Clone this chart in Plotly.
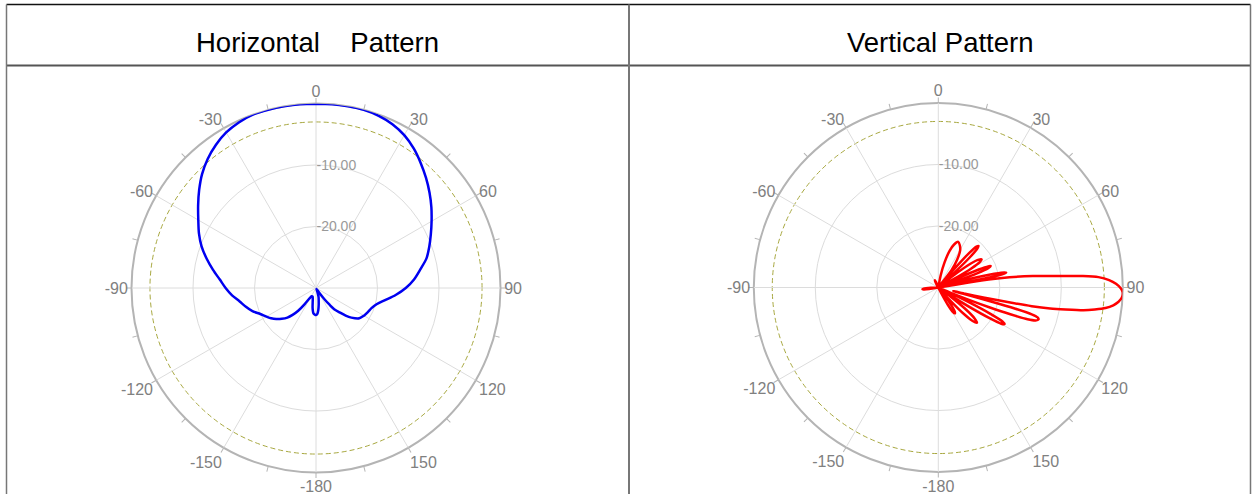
import plotly.graph_objects as go

# ---------------- data ----------------
H_THETA = [0, 5, 10, 15, 20, 25, 30, 35, 40, 45, 50, 55, 60, 65, 70, 75, 80, 85, 90, 95,
           100, 105, 110, 115, 120, 125, 130, 133, 136, 139, 141, 143, 146, 150, 155, 160,
           164, 168, 171, 174, 177, 180, 183, 186, 188, 190, 193, 197, 202, 208, 212, 215,
           218, 221, 224, 228, 232, 236, 240, 245, 250, 255, 260, 265, 270, 275, 280, 285,
           290, 295, 300, 305, 310, 315, 320, 325, 330, 335, 340, 345, 350, 355, 360]
H_DB = [-0.1, 0.0, 0.0, 0.0, -0.2, -0.6, -1.3, -2.3, -3.5, -4.7, -5.9, -7.1, -8.3, -9.4,
        -10.4, -11.4, -12.8, -14.0, -15.4, -17.0, -18.6, -19.8, -20.4, -20.7, -21.0, -21.4,
        -22.5, -23.4, -24.5, -25.3, -26.5, -27.6, -29.0, -29.8, -29.8, -29.3, -28.5, -27.9,
        -27.2, -26.4, -25.8, -25.6, -25.7, -25.9, -26.3, -26.8, -27.6, -28.2, -28.5, -28.5,
        -28.0, -26.8, -25.3, -24.2, -23.3, -22.5, -21.8, -21.2, -20.7, -20.0, -19.0, -18.2,
        -17.4, -16.3, -15.3, -14.3, -13.0, -11.6, -10.2, -9.0, -7.9, -6.6, -5.2, -3.8, -2.6,
        -1.6, -0.8, -0.3, 0.0, 0.0, 0.0, 0.0, -0.1]

V_THETA = [0, 8, 11, 14, 17, 20, 23.6, 27, 30.5, 34, 37.5, 39.5,
           40.5, 41.8, 43, 44, 45, 46.3, 47.5, 48.5,
           50, 51.5, 53.5, 55.5, 57, 58.5, 60, 61.3, 62.3,
           63.3, 64.5, 66, 67, 67.8, 68.8, 70, 71.2, 72.3,
           73.3, 74.3, 75.6, 76.7, 77.5, 78.3, 79.1, 79.8, 80.3,
           80.8, 81.2, 81.8, 83.1, 84.6, 85.5, 86.3, 87.5, 88.8, 90.3, 91.5, 92.5, 93.5,
           94.5, 95.8, 97, 98, 98.9, 99.8, 100.6, 101.3, 101.9, 102.5, 103.2, 103.8,
           104.4, 104.9, 105.4, 106, 106.8, 107.7, 108.7, 109.6, 110.4, 111.2, 112, 113, 113.8,
           114.6, 115.6, 116.8, 117.9, 118.9, 119.9, 120.9, 121.9, 122.9, 123.6,
           125, 126.5, 128.3, 130.3, 132.3, 134.3, 136, 137.5, 138.7,
           140, 141.5, 143.5, 145.5, 147.3, 149.3, 151.2, 153, 154,
           200, 258, 260.5, 262.5, 264, 265.5, 267.5, 269,
           325, 330, 334, 336, 338, 342, 360]
V_DB = [-30, -30, -28, -25.8, -23.8, -22.6, -21.9, -22.3, -23.0, -24.5, -26.5, -30,
        -27, -22.5, -20.9, -20.6, -21.0, -23, -27, -30,
        -30, -27, -23.5, -22, -21.6, -22.1, -23.8, -27, -30,
        -30, -27, -22.8, -21.2, -20.8, -21.3, -23.2, -27, -30,
        -30, -27, -22.5, -19.5, -18.7, -19.4, -22.5, -27, -30,
        -25, -21, -18.3, -14.5, -10.2, -6.4, -3.9, -2.2, -1.1, -0.3, 0.0, 0.0, -0.2,
        -0.6, -1.4, -2.6, -4.3, -6.1, -9.0, -11.5, -14.5, -18.5, -22.5, -25.5, -27.5,
        -25.5, -21, -17, -14.2, -13.1, -12.9, -13.3, -14.6, -17.5, -21, -24.5, -28, -30,
        -28, -24.5, -20.5, -18.2, -17.7, -18.2, -20.3, -23.5, -27.5, -30,
        -30, -27.5, -24.5, -22.3, -21.5, -22.2, -24, -27, -30,
        -30, -28.5, -26.5, -25.3, -25.0, -25.4, -26.8, -29, -30,
        -30, -30, -28.5, -27.6, -27.4, -27.6, -28.8, -30,
        -30, -29.5, -28.8, -28.7, -29.4, -30, -30]

TICK_ANGLES = [0, 15, 30, 45, 60, 75, 90, 105, 120, 135, 150, 165,
               180, 195, 210, 225, 240, 255, 270, 285, 300, 315, 330, 345]
LABEL_ANGLES = [0, 30, 60, 90, 120, 150, 180, 210, 240, 270, 300, 330]
LABEL_TEXT = ["0", "30", "60", "90", "120", "150", "-180", "-150", "-120", "-90", "-60", "-30"]
GRID_ANGLES = [0, 30, 60, 90, 120, 150, 180, 210, 240, 270, 300, 330]
RING_VALUES = [-20, -10]
RING_LABELS = ["-20.00", "-10.00"]
REF_LEVEL = [-3]
R_RANGE = [-30, 0]
TITLES = ["Horizontal\u00a0\u00a0\u00a0\u00a0Pattern", "Vertical Pattern"]

W, H = 1257, 494
FONT = "Liberation Sans, Arial, sans-serif"

# polar centres / radius in pixels
R_PX = 184.5
LABEL_INSET = 3
CENTERS = [(316.0, 288.0), (938.3, 287.5)]


def dom(cx, cy, r=R_PX):
    return dict(x=[(cx - r) / W, (cx + r) / W],
                y=[(H - cy - r) / H, (H - cy + r) / H])


def dummy(key):
    return go.Scatterpolar(r=[R_RANGE[0]], theta=[0], mode="markers",
                           marker=dict(size=0.1, opacity=0), hoverinfo="skip",
                           subplot=key, showlegend=False)


fig = go.Figure()

# underlay polars: dashed -3 dB ring and the 15-degree tick marks
for i, (cx, cy) in enumerate(CENTERS):
    key = ["polar", "polar2"][i]
    fig.add_trace(dummy(key))
    fig.layout[key] = dict(
        domain=dom(cx, cy), bgcolor="white",
        angularaxis=dict(rotation=90, direction="clockwise", showline=False,
                         showgrid=False, showticklabels=False,
                         tickmode="array", tickvals=TICK_ANGLES,
                         ticks="outside", ticklen=5, tickcolor="#b4b4b4", tickwidth=1),
        radialaxis=dict(range=R_RANGE, tickvals=REF_LEVEL, showticklabels=False,
                        ticks="", showline=False, showgrid=True,
                        gridcolor="#a8a840", griddash="5px,3px", gridwidth=1),
    )

# main polars (polar3, polar4)
for i, (cx, cy) in enumerate(CENTERS):
    key = ["polar3", "polar4"][i]
    for a in GRID_ANGLES:
        fig.add_trace(go.Scatterpolar(r=R_RANGE, theta=[a, a], mode="lines",
                                      line=dict(color="#dcdcdc", width=1),
                                      hoverinfo="skip", subplot=key, showlegend=False))
    fig.layout[key] = dict(
        domain=dom(cx, cy), bgcolor="rgba(0,0,0,0)",
        angularaxis=dict(rotation=90, direction="clockwise",
                         tickmode="array", tickvals=LABEL_ANGLES,
                         showticklabels=False, ticks="",
                         showgrid=False, showline=True, linecolor="#b4b4b4", linewidth=2,
                         layer="below traces"),
        radialaxis=dict(range=R_RANGE, angle=90, tickmode="array",
                        tickvals=RING_VALUES, ticktext=RING_LABELS, tickangle=90,
                        showline=False, showgrid=True, gridcolor="#dcdcdc", gridwidth=1,
                        ticks="", side="clockwise",
                        tickfont=dict(family=FONT, size=14, color="#999999"),
                        layer="below traces"),
    )

# angle-label polars (polar5, polar6), slightly smaller so labels sit close to the rim
for i, (cx, cy) in enumerate(CENTERS):
    key = ["polar5", "polar6"][i]
    fig.add_trace(dummy(key))
    fig.layout[key] = dict(
        domain=dom(cx, cy, R_PX - LABEL_INSET), bgcolor="rgba(0,0,0,0)",
        angularaxis=dict(rotation=90, direction="clockwise",
                         tickmode="array", tickvals=LABEL_ANGLES, ticktext=LABEL_TEXT,
                         showgrid=False, showline=False,
                         ticks="outside", ticklen=3, tickcolor="rgba(0,0,0,0)",
                         tickfont=dict(family=FONT, size=16, color="#808080")),
        radialaxis=dict(range=R_RANGE, showticklabels=False, ticks="",
                        showline=False, showgrid=False),
    )

fig.add_trace(go.Scatterpolar(r=H_DB, theta=H_THETA, mode="lines",
                              line=dict(color="#0000f0", width=2.5, shape="spline", smoothing=0.8),
                              subplot="polar3", showlegend=False))
fig.add_trace(go.Scatterpolar(r=V_DB, theta=V_THETA, mode="lines",
                              line=dict(color="#ff0000", width=2.5, shape="spline", smoothing=0.6),
                              subplot="polar4", showlegend=False))

# table frame
def px_x(x):
    return x / W


def px_y(y):
    return (H - y) / H


shapes = [
    dict(type="line", x0=px_x(6.5), x1=px_x(1250.5), y0=px_y(4.5), y1=px_y(4.5),
         line=dict(color="#111111", width=1.5)),
    dict(type="line", x0=px_x(6.5), x1=px_x(1250.5), y0=px_y(65.5), y1=px_y(65.5),
         line=dict(color="#555555", width=2)),
    dict(type="line", x0=px_x(6.5), x1=px_x(6.5), y0=px_y(4.5), y1=0,
         line=dict(color="#777777", width=1.5)),
    dict(type="line", x0=px_x(1250.5), x1=px_x(1250.5), y0=px_y(4.5), y1=0,
         line=dict(color="#777777", width=1.5)),
    dict(type="line", x0=px_x(629), x1=px_x(629), y0=px_y(4.5), y1=0,
         line=dict(color="#777777", width=2)),
]
for s in shapes:
    s.update(xref="paper", yref="paper", layer="above")

annotations = [
    dict(text=TITLES[0], x=px_x(317), y=px_y(42), xref="paper", yref="paper",
         showarrow=False, font=dict(family=FONT, size=27.5, color="#000000"),
         xanchor="center", yanchor="middle"),
    dict(text=TITLES[1], x=px_x(940), y=px_y(42), xref="paper", yref="paper",
         showarrow=False, font=dict(family=FONT, size=27.5, color="#000000"),
         xanchor="center", yanchor="middle"),
]

fig.update_layout(width=W, height=H, autosize=False,
                  margin=dict(l=0, r=0, t=0, b=0),
                  paper_bgcolor="white", plot_bgcolor="white",
                  shapes=shapes, annotations=annotations, showlegend=False)

fig.write_html("out.html", config={"displayModeBar": False, "staticPlot": True},
               post_script="document.body.style.margin='0px';document.body.style.padding='0px';"
                           "document.body.style.overflow='hidden';")
